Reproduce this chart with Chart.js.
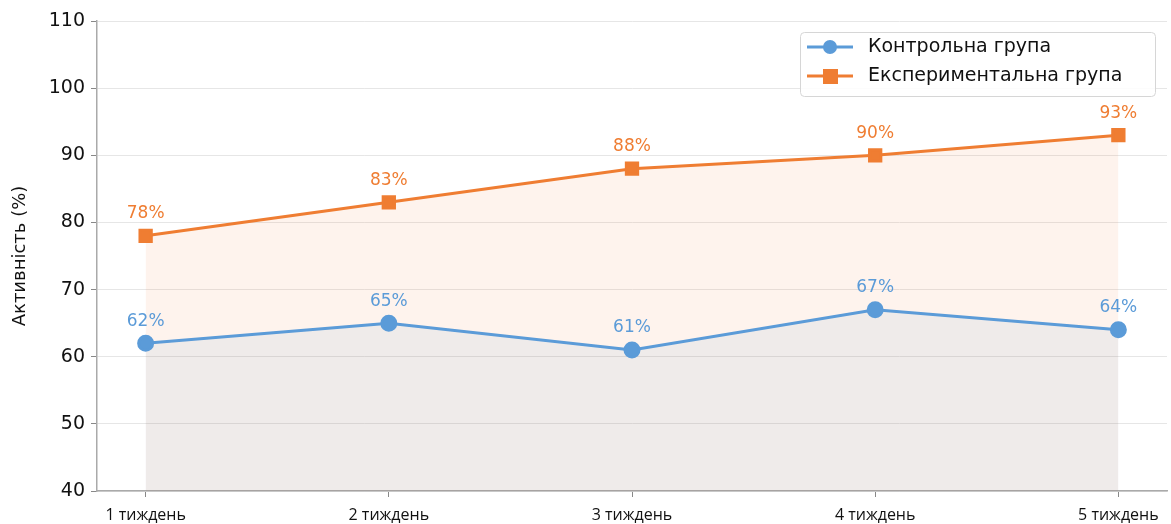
<!DOCTYPE html>
<html>
<head>
<meta charset="utf-8">
<script src="https://cdn.jsdelivr.net/npm/chart.js@4.4.1/dist/chart.umd.min.js"></script>
<style>
  html, body { margin: 0; padding: 0; background: #fff; }
  #wrap { width: 1171px; height: 524px; }
</style>
</head>
<body>
<div id="wrap"><canvas id="grafico" width="1171" height="524"></canvas></div>
<script>
const tygni = ['1 тиждень', '2 тиждень', '3 тиждень', '4 тиждень', '5 тиждень'];
const kontrolna = [62, 65, 61, 67, 64];
const eksperymentalna = [78, 83, 88, 90, 93];
const yTicks = [40, 50, 60, 70, 80, 90, 100, 110];

const SYNIY = '#5b9bd8';
const ORANZH = '#ef7d32';
const SHRYFT = "'DejaVu Sans', sans-serif";

// підписи над точками + легенда
const pidpysy = {
    id: 'pidpysy',
    afterDatasetsDraw(chart) {
        const ctx = chart.ctx;
        ctx.save();
        ctx.font = '17px ' + SHRYFT;
        ctx.textAlign = 'center';
        ctx.textBaseline = 'middle';
        chart.data.datasets.forEach((ds, i) => {
            const meta = chart.getDatasetMeta(i);
            meta.data.forEach((pt, j) => {
                ctx.fillStyle = ds.borderColor;
                ctx.fillText(ds.data[j].y + '%', pt.x, pt.y - 22);
            });
        });
        ctx.restore();
    },
    afterDraw(chart) {
        const ctx = chart.ctx;
        ctx.save();
        const bx = 800, by = 32, bw = 355, bh = 64;
        ctx.fillStyle = 'rgba(255,255,255,0.85)';
        ctx.strokeStyle = '#d6d6d6';
        ctx.lineWidth = 1;
        ctx.beginPath();
        ctx.roundRect(bx + 0.5, by + 0.5, bw, bh, 4);
        ctx.fill();
        ctx.stroke();
        const rows = [
            { text: 'Контрольна група', color: SYNIY, shape: 'circle', y: 47 },
            { text: 'Експериментальна група', color: ORANZH, shape: 'square', y: 76 }
        ];
        rows.forEach(r => {
            ctx.strokeStyle = r.color;
            ctx.fillStyle = r.color;
            ctx.lineWidth = 3;
            ctx.beginPath();
            ctx.moveTo(807, r.y);
            ctx.lineTo(853, r.y);
            ctx.stroke();
            if (r.shape === 'circle') {
                ctx.beginPath();
                ctx.arc(830, r.y, 7, 0, Math.PI * 2);
                ctx.fill();
            } else {
                ctx.fillRect(823, r.y - 7, 15, 15);
            }
            ctx.fillStyle = '#111';
            ctx.font = '19px ' + SHRYFT;
            ctx.textAlign = 'left';
            ctx.textBaseline = 'middle';
            ctx.fillText(r.text, 868, r.y);
        });
        ctx.restore();
    }
};

const data = {
    datasets: [{
            label: 'Контрольна група',
            data: kontrolna.map((v, i) => ({ x: i, y: v })),
            borderColor: SYNIY,
            backgroundColor: 'rgba(80,140,200,0.09)',
            pointBackgroundColor: SYNIY,
            pointBorderColor: SYNIY,
            pointStyle: 'circle',
            pointRadius: 7,
            borderWidth: 3,
            tension: 0,
            fill: 'start',
            order: 1
        },
        {
            label: 'Експериментальна група',
            data: eksperymentalna.map((v, i) => ({ x: i, y: v })),
            borderColor: ORANZH,
            backgroundColor: 'rgba(239,125,50,0.09)',
            pointBackgroundColor: ORANZH,
            pointBorderColor: ORANZH,
            pointStyle: 'rect',
            pointRadius: 8,
            borderWidth: 3,
            tension: 0,
            fill: 'start',
            order: 2
        }
    ]
};

const config = {
    type: 'line',
    data: data,
    options: {
        responsive: false,
        devicePixelRatio: 1,
        animation: false,
        layout: { autoPadding: false, padding: { top: 21, right: 4, bottom: 0, left: 8 } },
        scales: {
            x: {
                type: 'linear',
                min: -0.2,
                max: 4.2,
                afterBuildTicks: function(axis) {
                    axis.ticks = tygni.map((t, i) => ({ value: i }));
                },
                afterFit: function(axis) {
                    axis.height = 33;
                    axis.paddingLeft = 0;
                    axis.paddingRight = 0;
                },
                ticks: {
                    color: '#111',
                    font: { family: "'Open Sans', sans-serif", size: 16 },
                    padding: 9,
                    maxRotation: 0,
                    callback: function(value) {
                        return tygni[value];
                    }
                },
                grid: {
                    drawOnChartArea: false,
                    color: '#888',
                    tickLength: 6
                },
                border: { color: '#aaa', width: 1.5 }
            },
            y: {
                min: 40,
                max: 110,
                afterBuildTicks: function(axis) {
                    axis.ticks = yTicks.map(v => ({ value: v }));
                },
                afterFit: function(axis) {
                    axis.width = 89;
                    axis.paddingTop = 0;
                    axis.paddingBottom = 0;
                },
                ticks: {
                    color: '#111',
                    font: { family: SHRYFT, size: 19 },
                    padding: 6
                },
                grid: {
                    color: '#e6e6e6',
                    lineWidth: 1,
                    tickColor: '#888',
                    tickLength: 6
                },
                border: { color: '#aaa', width: 1.5 },
                title: {
                    display: true,
                    text: 'Активність (%)',
                    color: '#111',
                    font: { family: SHRYFT, size: 18 },
                    padding: 2
                }
            }
        },
        plugins: {
            legend: { display: false },
            tooltip: { enabled: false }
        }
    },
    plugins: [pidpysy]
};

const ctx = document.getElementById('grafico').getContext('2d');
const chart = new Chart(ctx, config);
</script>
</body>
</html>
